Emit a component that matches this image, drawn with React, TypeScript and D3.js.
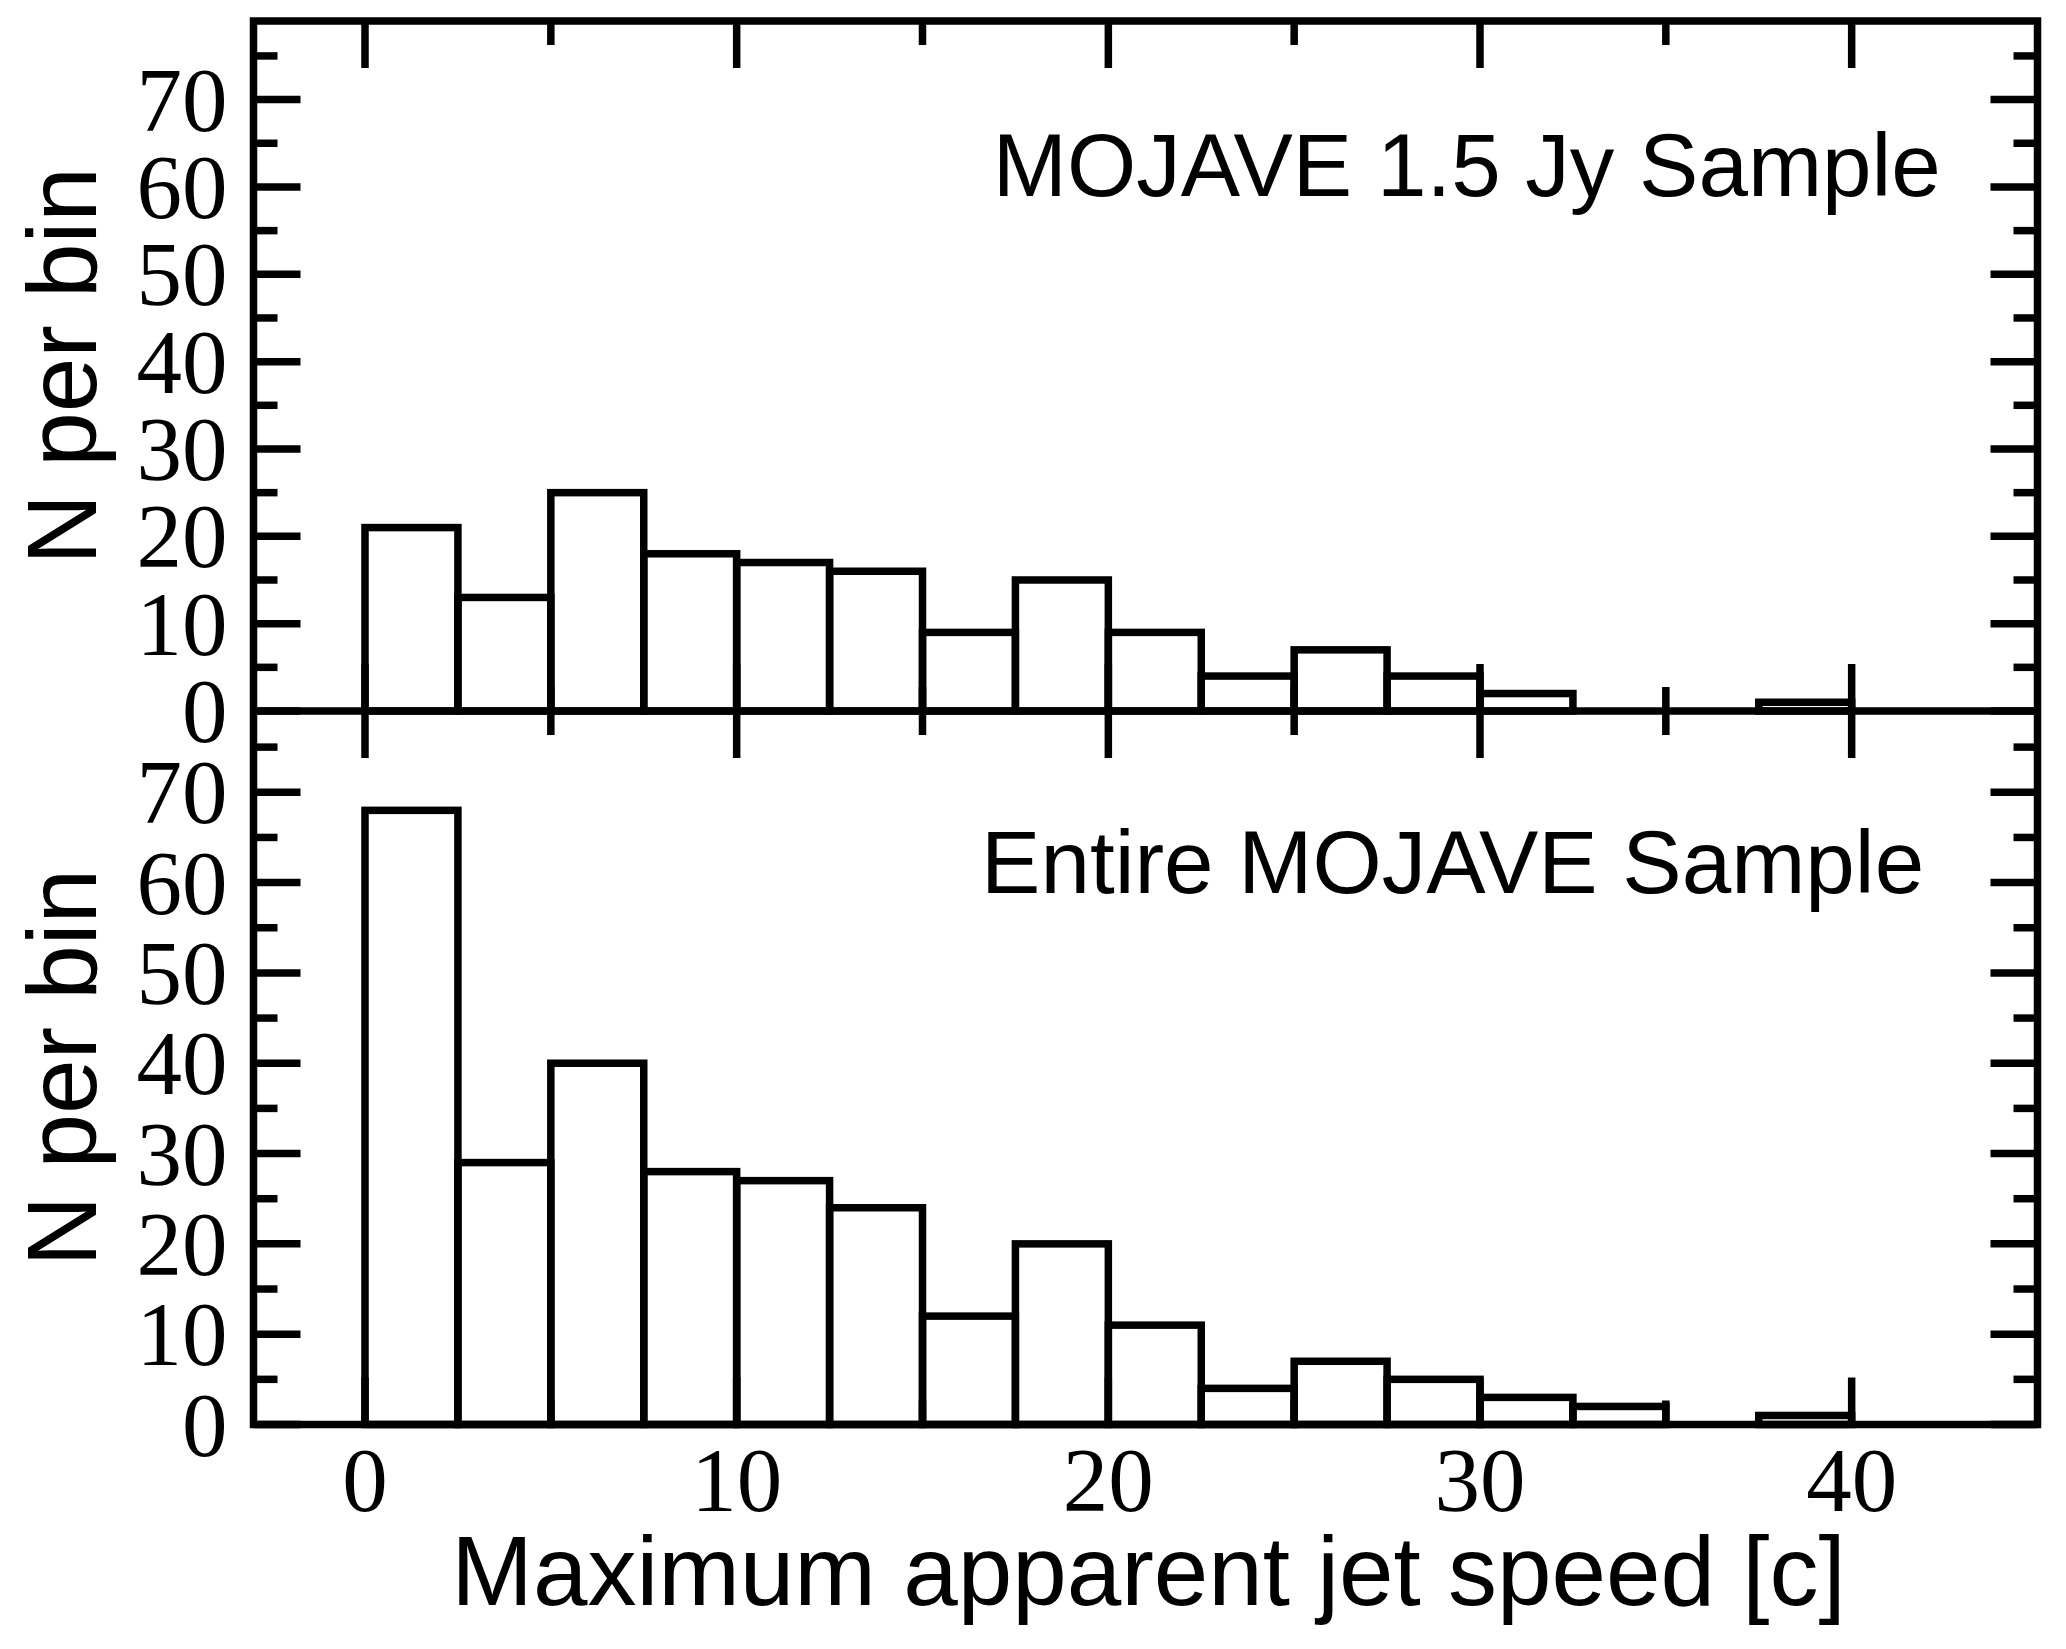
import React from 'react';
import * as d3 from 'd3';

// ---------- data ----------
const binWidth = 2.5;
const binStarts = [0, 2.5, 5, 7.5, 10, 12.5, 15, 17.5, 20, 22.5, 25, 27.5, 30, 32.5, 35, 37.5];
const counts15Jy = [21, 13, 25, 18, 17, 16, 9, 15, 9, 4, 7, 4, 2, 0, 0, 1];
const countsEntire = [68, 29, 40, 28, 27, 24, 12, 20, 11, 4, 7, 5, 3, 2, 0, 1];
const xMajorTicks = [0, 10, 20, 30, 40];
const xMinorTicks = [5, 15, 25, 35];
const yMajorTicks = [0, 10, 20, 30, 40, 50, 60, 70];
const yMinorTicks = [5, 15, 25, 35, 45, 55, 65, 75];
const panelTitles = ['MOJAVE 1.5 Jy Sample', 'Entire MOJAVE Sample'];
const xTitle = 'Maximum apparent jet speed [c]';
const yTitle = 'N per bin';

// ---------- layout ----------
const W = 2066;
const H = 1649;
const left = 253.5;
const right = 2037.5;
const top = 21;
const mid = 711;
const bottom = 1424.5;
const SW = 7.5;
const majorLen = 47;
const minorLen = 24;
const SERIF = "'Liberation Serif', 'Times New Roman', serif";
const SANS = "'Liberation Sans', Arial, Helvetica, sans-serif";

const x = d3.scaleLinear().domain([-3, 45]).range([left, right]);
const yTop = d3.scaleLinear().domain([0, 79]).range([mid, top]);
const yBot = d3.scaleLinear().domain([0, 79]).range([bottom, mid]);

type PanelProps = {
  y: d3.ScaleLinear<number, number>;
  counts: number[];
  title: string;
  titlePos: [number, number];
};

function Panel({ y, counts, title, titlePos }: PanelProps) {
  const [y0, y1] = y.range(); // bottom, top pixel
  const ticks: JSX.Element[] = [];
  const xt = (v: number, len: number, key: string) => {
    ticks.push(<line key={key + 'b'} x1={x(v)} x2={x(v)} y1={y0} y2={y0 - len} />);
    ticks.push(<line key={key + 't'} x1={x(v)} x2={x(v)} y1={y1} y2={y1 + len} />);
  };
  xMajorTicks.forEach((v) => xt(v, majorLen, 'xM' + v));
  xMinorTicks.forEach((v) => xt(v, minorLen, 'xm' + v));
  const yt = (v: number, len: number, key: string) => {
    ticks.push(<line key={key + 'l'} x1={left} x2={left + len} y1={y(v)} y2={y(v)} />);
    ticks.push(<line key={key + 'r'} x1={right} x2={right - len} y1={y(v)} y2={y(v)} />);
  };
  yMajorTicks.forEach((v) => yt(v, majorLen, 'yM' + v));
  yMinorTicks.forEach((v) => yt(v, minorLen, 'ym' + v));

  const cy = (y0 + y1) / 2;
  return (
    <g>
      <g fill="none" stroke="#000" strokeWidth={SW} strokeLinejoin="miter">
        {binStarts.map((b, i) =>
          counts[i] > 0 ? (
            <rect
              key={'bar' + i}
              x={x(b)}
              y={y(counts[i])}
              width={x(b + binWidth) - x(b)}
              height={y(0) - y(counts[i])}
            />
          ) : null
        )}
      </g>
      <g stroke="#000" strokeWidth={SW} strokeLinecap="butt">
        {ticks}
      </g>
      <g fontFamily={SERIF} fontSize={91} textAnchor="end" fill="#000">
        {yMajorTicks.map((v) => (
          <text key={'yl' + v} x={left - 26} y={y(v) + 31}>
            {v}
          </text>
        ))}
      </g>
      <text
        fontFamily={SANS}
        fontSize={89}
        textAnchor="end"
        x={x(titlePos[0])}
        y={y(titlePos[1])}
        fill="#000"
      >
        {title}
      </text>
      <text
        fontFamily={SANS}
        fontSize={98}
        textAnchor="middle"
        transform={`translate(96, ${cy}) rotate(-90)`}
        fill="#000"
      >
        {yTitle}
      </text>
    </g>
  );
}

export default function App() {
  return (
    <svg
      width={W}
      height={H}
      viewBox={`0 0 ${W} ${H}`}
      style={{ position: 'absolute', left: 0, top: 0, display: 'block', background: '#fff' }}
    >
      <rect x={0} y={0} width={W} height={H} fill="#fff" />
      <Panel y={yTop} counts={counts15Jy} title={panelTitles[0]} titlePos={[42.4, 59.0]} />
      <Panel y={yBot} counts={countsEntire} title={panelTitles[1]} titlePos={[41.95, 58.8]} />
      <g fill="none" stroke="#000" strokeWidth={SW} strokeLinejoin="miter">
        <rect x={left} y={top} width={right - left} height={bottom - top} />
        <line x1={left} x2={right} y1={mid} y2={mid} />
      </g>
      <g fontFamily={SERIF} fontSize={91} textAnchor="middle" fill="#000">
        {xMajorTicks.map((v) => (
          <text key={'xl' + v} x={x(v)} y={bottom + 86}>
            {v}
          </text>
        ))}
      </g>
      <text
        fontFamily={SANS}
        fontSize={98}
        textAnchor="middle"
        x={(left + right) / 2 + 3}
        y={1605}
        fill="#000"
      >
        {xTitle}
      </text>
    </svg>
  );
}
